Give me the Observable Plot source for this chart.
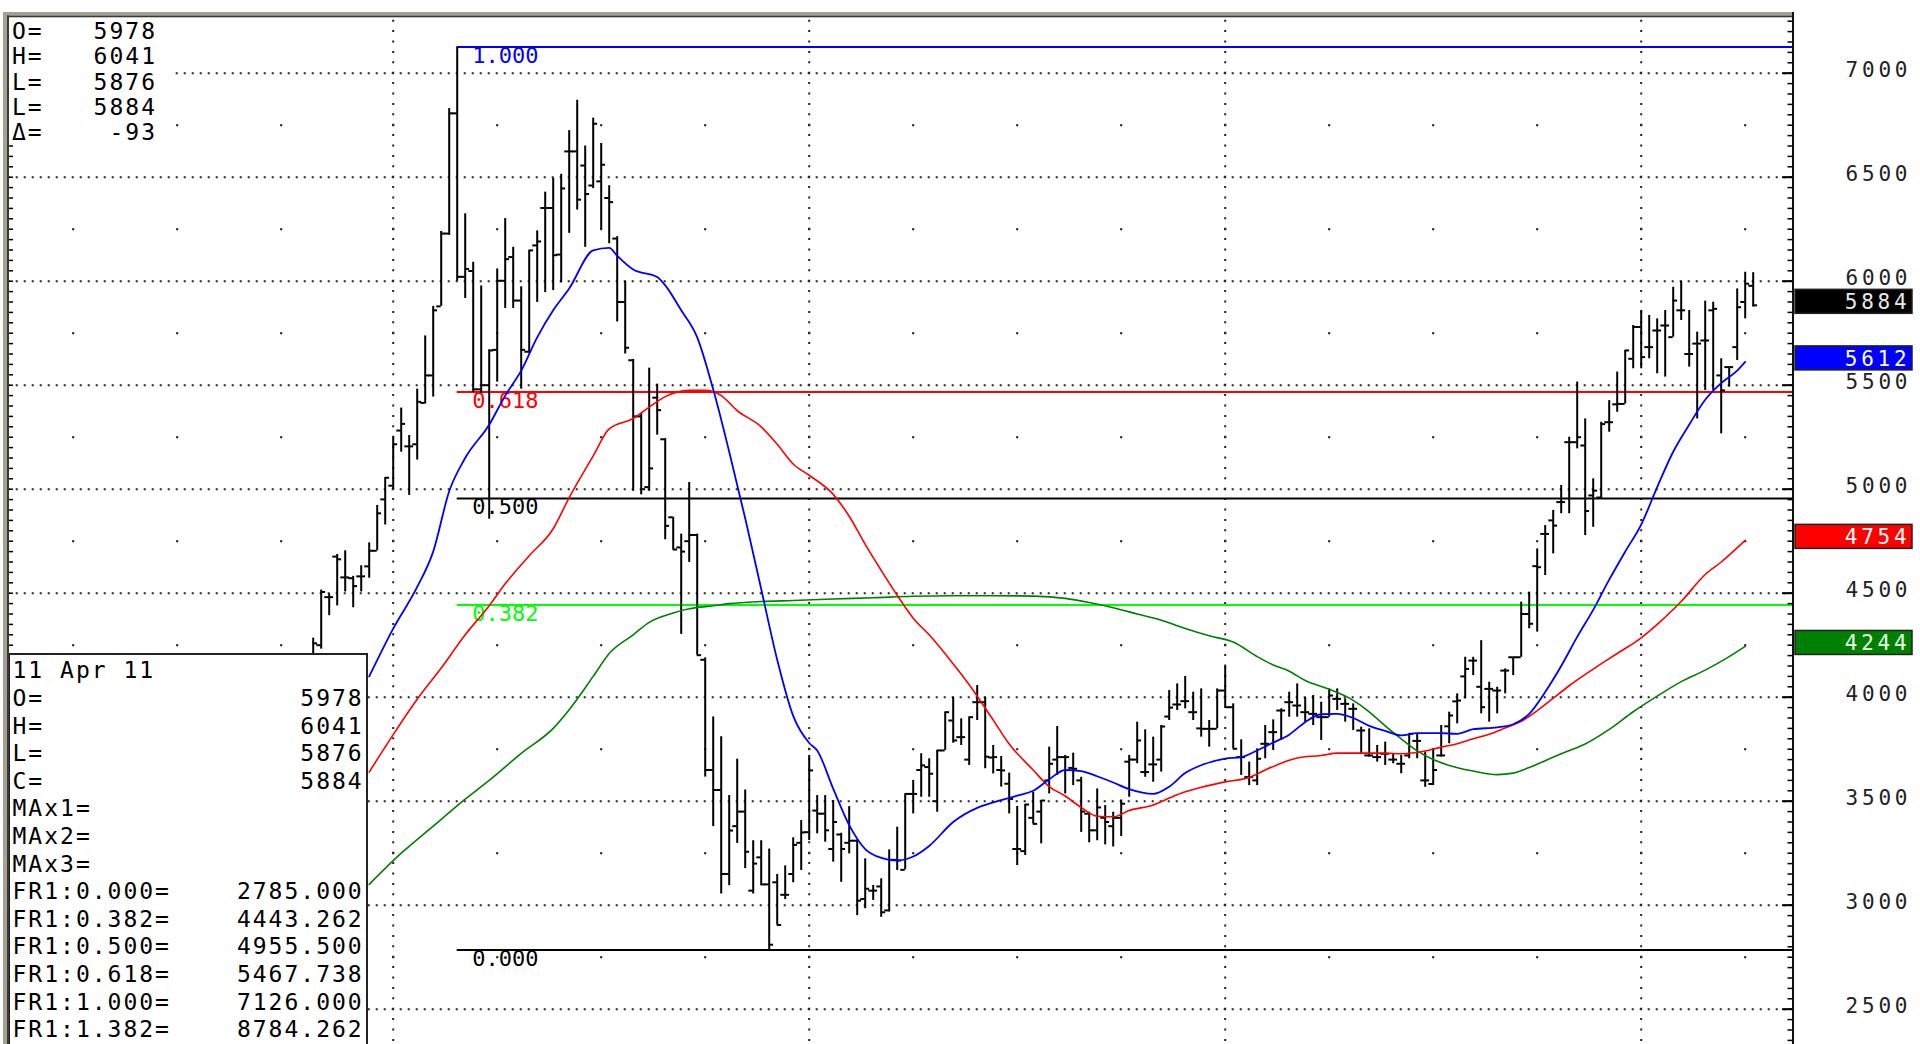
<!DOCTYPE html>
<html>
<head>
<meta charset="utf-8">
<script src="https://cdn.jsdelivr.net/npm/d3@7"></script>
<script src="https://cdn.jsdelivr.net/npm/@observablehq/plot@0.6"></script>
<style>
  html, body { margin: 0; padding: 0; background: #ffffff; overflow: hidden; }
  #chart svg { display: block; }
</style>
</head>
<body>
<div id="chart"></div>
<script>
// ---------- weekly OHLC bars (index 0 .. 180, last bar = week of 11 Apr 11) ----------
const opens = [
  4180,4250,4481,4676,4576,4572,4581,4629,4704,4951,
  5017,5282,5206,5216,5415,5547,5879,6229,6807,6021,
  6049,5480,5500,5670,6002,6116,5907,5661,6172,6352,
  6352,6128,6624,6624,6556,6460,6480,6400,6205,5900,
  5620,5350,5010,5440,5240,4865,4720,4750,4780,4180,
  3650,3554,3150,3380,3450,3070,3230,3100,3110,3050,
  3150,3300,3351,3455,3440,3270,3340,3300,3310,3030,
  3070,3090,2975,3218,3170,3535,3650,3664,3500,3744,
  3888,3808,3700,3976,3976,3710,3650,3584,3270,3260,
  3420,3450,3600,3700,3712,3660,3600,3440,3360,3420,
  3380,3420,3690,3700,3640,3677,3700,3907,3965,3981,
  3928,3850,3848,3848,4032,3952,3712,3616,3600,3776,
  3832,3936,3976,3960,3928,3920,3904,3904,3992,3968,
  3944,3840,3720,3712,3728,3700,3680,3720,3790,3600,
  3583,3720,3860,3980,4100,4176,4050,4040,4032,4128,
  4192,4192,4400,4630,4785,4850,4938,5226,5226,5210,
  4970,4960,5322,5408,5410,5627,5780,5683,5763,5787,
  5731,5860,5650,5700,5715,5860,5547,5587,5683,5900,
  5978];
const highs = [
  4284,4515,4496,4686,4704,4581,4632,4742,4922,5055,
  5244,5390,5258,5481,5737,5879,6239,6830,7126,6324,
  6091,5977,5670,6059,6301,6163,5973,6148,6242,6428,
  6494,6514,6724,6870,6650,6784,6662,6459,6214,6000,
  5624,5365,5582,5505,5243,4865,4784,5032,4784,4189,
  3905,3810,3527,3702,3554,3310,3310,3270,3148,3189,
  3324,3407,3720,3527,3527,3503,3346,3474,3314,3223,
  3095,3127,3266,3375,3535,3600,3728,3704,3744,3928,
  4000,3896,3904,4056,4000,3768,3715,3635,3475,3484,
  3543,3503,3760,3859,3720,3731,3615,3447,3559,3479,
  3447,3506,3720,3880,3843,3808,3864,4032,4064,4100,
  4024,4040,3888,4040,4148,3968,3795,3688,3752,3864,
  3891,3944,4024,4064,3999,4008,3976,4040,4040,3992,
  3968,3856,3848,3768,3784,3728,3720,3824,3824,3736,
  3752,3864,3928,4016,4192,4192,4272,4072,4048,4136,
  4192,4457,4505,4713,4825,4898,5018,5250,5515,5338,
  5050,5322,5426,5563,5667,5787,5859,5835,5819,5859,
  5971,6000,5859,5755,5904,5899,5627,5587,5963,6043,
  6041];
const lows = [
  4100,4231,4392,4439,4506,4430,4506,4572,4704,4828,
  4998,5178,4970,5140,5410,5443,5879,6220,6000,5917,
  5465,5460,4856,5515,5869,5869,5481,5651,5898,5945,
  5955,5992,6230,6342,6163,6445,6248,6180,5804,5650,
  4990,4973,4990,5260,4757,4708,4302,4648,4202,3616,
  3378,3054,3094,3297,3176,3054,3094,2785,2905,3027,
  3108,3167,3311,3343,3303,3207,3110,3247,2950,2983,
  3023,2942,2967,3167,3170,3439,3519,3519,3447,3744,
  3779,3768,3672,3888,3656,3631,3568,3439,3191,3239,
  3391,3295,3535,3624,3535,3575,3350,3300,3310,3290,
  3280,3330,3519,3680,3615,3591,3640,3888,3936,3944,
  3888,3808,3760,3848,3952,3752,3624,3575,3575,3704,
  3744,3792,3904,3904,3880,3864,3792,3904,3936,3880,
  3840,3728,3712,3688,3672,3680,3632,3704,3704,3567,
  3575,3712,3776,3872,3992,4104,3920,3880,3920,4016,
  4104,4192,4329,4313,4585,4689,4882,4882,5194,4777,
  4817,4954,5274,5370,5410,5579,5579,5627,5555,5539,
  5731,5811,5587,5338,5475,5475,5266,5491,5619,5819,
  5876];
const closes = [
  4259,4506,4481,4663,4576,4534,4581,4704,4884,5055,
  5216,5314,5206,5420,5547,5860,6229,6807,6021,6059,
  5480,5500,5667,6002,6106,5907,5670,6148,6191,6352,
  6125,6446,6624,6392,6419,6757,6560,6380,5900,5680,
  5350,5000,5100,5380,4824,4710,4700,4780,4202,3650,
  3554,3150,3359,3450,3257,3200,3100,2810,2905,3050,
  3290,3350,3648,3440,3360,3400,3270,3310,3022,3079,
  3070,2966,3218,3215,3535,3535,3672,3632,3744,3928,
  3792,3808,3904,3976,3714,3712,3648,3511,3270,3484,
  3391,3503,3680,3712,3712,3656,3450,3360,3470,3400,
  3420,3488,3700,3792,3640,3677,3859,3950,3965,3981,
  3928,3848,3848,4032,3952,3752,3712,3616,3704,3776,
  3832,3936,3976,3960,3928,3920,3904,4008,3992,3968,
  3944,3840,3720,3712,3728,3700,3680,3824,3790,3600,
  3650,3720,3912,3984,4136,4176,3952,4040,4032,4128,
  4192,4400,4353,4625,4785,4825,4938,5226,5250,4895,
  4993,5313,5322,5410,5667,5780,5635,5683,5763,5787,
  5907,5860,5650,5700,5715,5867,5475,5587,5875,5988,
  5884];

// ---------- moving averages (read at bar indices) ----------
const blueIdx = [7,10,13,15,17,19,22,24,26,28,30,32,35,37,38,40,43,44,46,48,50,52,54,56,58,60,62,63,65,67,69,71,73,75,77,80,83,85,88,90,92,94,96,98,100,102,105,107,109,111,114,116,118,120,122,124,126,128,130,132,134,136,138,141,143,145,148,150,152,154,156,158,160,162,164,166,168,170,172,174,176,178,179];
const blueVals = [4100,4330,4530,4700,4990,5150,5310,5450,5570,5730,5860,5965,6148,6160,6122,6056,6020,5980,5860,5730,5480,5180,4860,4520,4180,3910,3780,3744,3560,3385,3270,3228,3215,3234,3285,3400,3468,3494,3527,3550,3605,3650,3645,3620,3590,3558,3535,3570,3635,3673,3705,3712,3744,3782,3820,3880,3918,3920,3900,3862,3838,3816,3827,3827,3824,3846,3855,3870,3920,4025,4150,4290,4420,4565,4700,4830,5010,5180,5310,5430,5510,5570,5612];
const redIdx = [7,10,13,16,19,22,24,27,30,32,35,37,40,42,44,47,49,51,53,56,58,60,62,65,67,69,71,73,75,77,80,82,85,87,90,92,94,96,98,100,102,105,107,109,111,114,117,119,121,123,126,128,134,136,139,141,143,145,147,149,151,153,155,157,160,163,166,168,171,174,176,179];
const redVals = [3640,3820,3990,4140,4300,4440,4545,4680,4810,4960,5160,5290,5340,5395,5445,5475,5475,5450,5378,5300,5216,5121,5067,4975,4870,4735,4610,4490,4380,4300,4160,4060,3890,3775,3650,3570,3525,3470,3428,3425,3455,3482,3515,3545,3567,3593,3614,3650,3683,3708,3720,3731,3731,3728,3741,3760,3776,3800,3822,3852,3884,3935,3995,4055,4135,4210,4285,4350,4460,4590,4650,4754];
const greenIdx = [7,11,15,19,22,26,30,32,35,37,40,42,45,47,50,52,56,60,65,70,75,80,85,90,94,97,100,103,106,109,112,115,118,120,122,124,127,130,132,134,136,138,140,142,145,148,150,152,154,156,159,162,165,168,171,174,177,179];
const greenVals = [3100,3250,3380,3510,3600,3730,3850,3940,4100,4210,4300,4360,4405,4425,4440,4450,4460,4465,4472,4478,4485,4488,4488,4486,4475,4455,4430,4400,4370,4330,4295,4265,4195,4155,4125,4080,4038,3985,3930,3862,3800,3742,3700,3672,3645,3628,3635,3662,3695,3728,3775,3845,3930,4005,4075,4130,4195,4244];

// ---------- Fibonacci retracement FR1 ----------
const fibStartIndex = 18;
const fibValues = [7126, 5467.738, 4955.5, 4443.262, 2785];
const fibLabels = ["1.000", "0.618", "0.500", "0.382", "0.000"];
const fibColors = ["#0000ff", "#ff0000", "#000000", "#00ff00", "#000000"];

// ---------- axis / grid ----------
const yTicks = [2500, 3000, 3500, 4000, 4500, 5000, 5500, 6000, 6500, 7000];
const midLevels = [2750, 3250, 3750, 4250, 4750, 5250, 5750, 6250, 6750];
const yearIdx = [10, 62, 114, 166];
const quarterIdx = [-30, -17, -4, 10, 23, 36, 49, 62, 75, 88, 101, 114, 127, 140, 153, 166, 179];

// ---------- right-edge value flags ----------
const flagValues = [5884, 5612, 4754, 4244];
const flagColors = ["#000000", "#0000ff", "#ff0000", "#008000"];
const flagText = ["#e8e8e8", "#ffffff", "#ffffff", "#e8ffe8"];

// ---------- info panels ----------
const topLabels = ["O=", "H=", "L=", "L=", "\u0394="];
const topValues = ["5978", "6041", "5876", "5884", "-93"];
const boxDate = "11 Apr 11";
const boxLabels = ["O=", "H=", "L=", "C=", "MAx1=", "MAx2=", "MAx3=", "FR1:0.000=", "FR1:0.382=", "FR1:0.500=", "FR1:0.618=", "FR1:1.000=", "FR1:1.382="];
const boxValues = ["5978", "6041", "5876", "5884", "", "", "", "2785.000", "4443.262", "4955.500", "5467.738", "7126.000", "8784.262"];

// ---------- build ----------
const bars = opens.map((o, i) => ({i, open: o, high: highs[i], low: lows[i], close: closes[i]}));
const pts = (idx, vals) => idx.map((i, k) => ({i, v: vals[k]}));
const fib = fibValues.map((v, k) => ({v, label: fibLabels[k], color: fibColors[k]}));
const gridDots = [];
for (const i of quarterIdx) for (const v of midLevels) gridDots.push({i, v});
const minorTicks = d3.range(2350, 7268, 50);

const W = 1920, H = 1044;
const mL = 9, mR = 128, mT = 17, mB = 0;
const innerW = W - mL - mR;
const xDomain = [-37.9625, 184.9125];
const yDomain = [2330.3, 7267.8];
const MONO = "'DejaVu Sans Mono', 'Liberation Mono', monospace";
const AX_LS = 3.8;

const chart = Plot.plot({
  width: W, height: H,
  marginTop: mT, marginBottom: mB, marginLeft: mL, marginRight: mR,
  style: {background: "#ffffff", fontFamily: MONO, color: "#000"},
  x: {domain: xDomain, axis: null},
  y: {domain: yDomain, axis: null},
  color: {type: "identity"},
  marks: [
    Plot.ruleY(yTicks, {stroke: "#222", strokeWidth: 2, strokeDasharray: "2,6", strokeDashoffset: 1.3}),
    Plot.ruleX(yearIdx, {stroke: "#222", strokeWidth: 2, strokeDasharray: "2,8.4", strokeDashoffset: 7.7}),
    Plot.dot(gridDots, {x: "i", y: "v", symbol: "square", r: 1.2, fill: "#222", stroke: null}),
    Plot.ruleY(fib, {y: "v", x1: () => fibStartIndex, x2: () => xDomain[1], stroke: "color", strokeWidth: 2}),
    Plot.text(fib, {x: () => fibStartIndex, y: "v", text: "label", fill: "color", dx: 15, dy: 0,
      textAnchor: "start", lineAnchor: "top", fontSize: 22, fontFamily: MONO}),
    Plot.ruleX(bars, {x: "i", y1: "low", y2: "high", stroke: "#000", strokeWidth: 2}),
    Plot.ruleY(bars, {y: "open", x1: d => d.i - 0.55, x2: "i", stroke: "#000", strokeWidth: 2}),
    Plot.ruleY(bars, {y: "close", x1: "i", x2: d => d.i + 0.55, stroke: "#000", strokeWidth: 2}),
    Plot.line(pts(greenIdx, greenVals), {x: "i", y: "v", stroke: "#008000", strokeWidth: 1.6, curve: "monotone-x"}),
    Plot.line(pts(redIdx, redVals), {x: "i", y: "v", stroke: "#ff0000", strokeWidth: 1.6, curve: "monotone-x"}),
    Plot.line(pts(blueIdx, blueVals), {x: "i", y: "v", stroke: "#0000ff", strokeWidth: 1.8, curve: "monotone-x"}),
    Plot.ruleY(minorTicks, {insetLeft: innerW - 4.5, stroke: "#000", strokeWidth: 1.5}),
    Plot.ruleY(yTicks, {insetLeft: innerW - 10, stroke: "#000", strokeWidth: 2}),
    Plot.ruleY(minorTicks, {insetRight: innerW - 4, stroke: "#000", strokeWidth: 1.5}),
    Plot.axisY(yTicks, {anchor: "right", tickSize: 0, tickPadding: 115 + AX_LS, textAnchor: "end",
      tickFormat: "d", fontSize: 21, fontFamily: MONO, fill: "#222", label: null, dy: -3})
  ]
});

document.getElementById("chart").appendChild(chart);

const svg = d3.select(chart);
svg.selectAll('g[aria-label="y-axis tick label"] text').attr("letter-spacing", AX_LS);
const yScale = chart.scale("y");
const yPix = v => yScale.apply(v);

function addText(g, x, y, str, anchor, size, ls, fill) {
  return g.append("text").attr("x", x).attr("y", y).attr("text-anchor", anchor)
    .attr("font-family", MONO).attr("font-size", size).attr("letter-spacing", ls)
    .attr("fill", fill).text(str);
}

// top-left panel
const tp = svg.append("g");
tp.append("rect").attr("x", 9).attr("y", 17).attr("width", 164).attr("height", 126).attr("fill", "#fff");
topLabels.forEach((lab, k) => {
  const cy = 30.5 + 25.3 * k;
  addText(tp, 12, cy + 8.4, lab, "start", 23, 2, "#000");
  addText(tp, 155 + 2, cy + 8.4, topValues[k], "end", 23, 2, "#000");
});

// bottom-left data window
const bp = svg.append("g");
bp.append("rect").attr("x", 9).attr("y", 654).attr("width", 358).attr("height", 420)
  .attr("fill", "#fff").attr("stroke", "#222").attr("stroke-width", 2);
addText(bp, 12.5, 670 + 8.4, boxDate, "start", 23, 2, "#000");
boxLabels.forEach((lab, k) => {
  const cy = 670 + 27.6 * (k + 1);
  addText(bp, 12.5, cy + 8.4, lab, "start", 23, 2, "#000");
  if (boxValues[k]) addText(bp, 361.7 + 2, cy + 8.4, boxValues[k], "end", 23, 2, "#000");
});

// frame
const frame = svg.append("g");
frame.append("rect").attr("x", 3).attr("y", 12).attr("width", 1791).attr("height", 3.5).attr("fill", "#a4a190");
frame.append("rect").attr("x", 3).attr("y", 15.5).attr("width", 1791).attr("height", 1.8).attr("fill", "#3a3a3a");
frame.append("rect").attr("x", 3).attr("y", 12).attr("width", 4).attr("height", H - 12).attr("fill", "#a4a190");
frame.append("rect").attr("x", 7).attr("y", 15.5).attr("width", 2).attr("height", H - 15).attr("fill", "#3a3a3a");
frame.append("rect").attr("x", 1792).attr("y", 12).attr("width", 2).attr("height", H - 12).attr("fill", "#111");

// value flags
const flags = svg.append("g");
flagValues.forEach((v, k) => {
  const cy = yPix(v) - 3.5;
  flags.append("rect").attr("x", 1795).attr("y", cy - 12).attr("width", 117).attr("height", 24)
    .attr("fill", flagColors[k]).attr("stroke", "#222").attr("stroke-width", 1.5);
  addText(flags, 1906.7 + AX_LS, cy + 7.8, String(v), "end", 21, AX_LS, flagText[k]);
});
</script>
</body>
</html>
